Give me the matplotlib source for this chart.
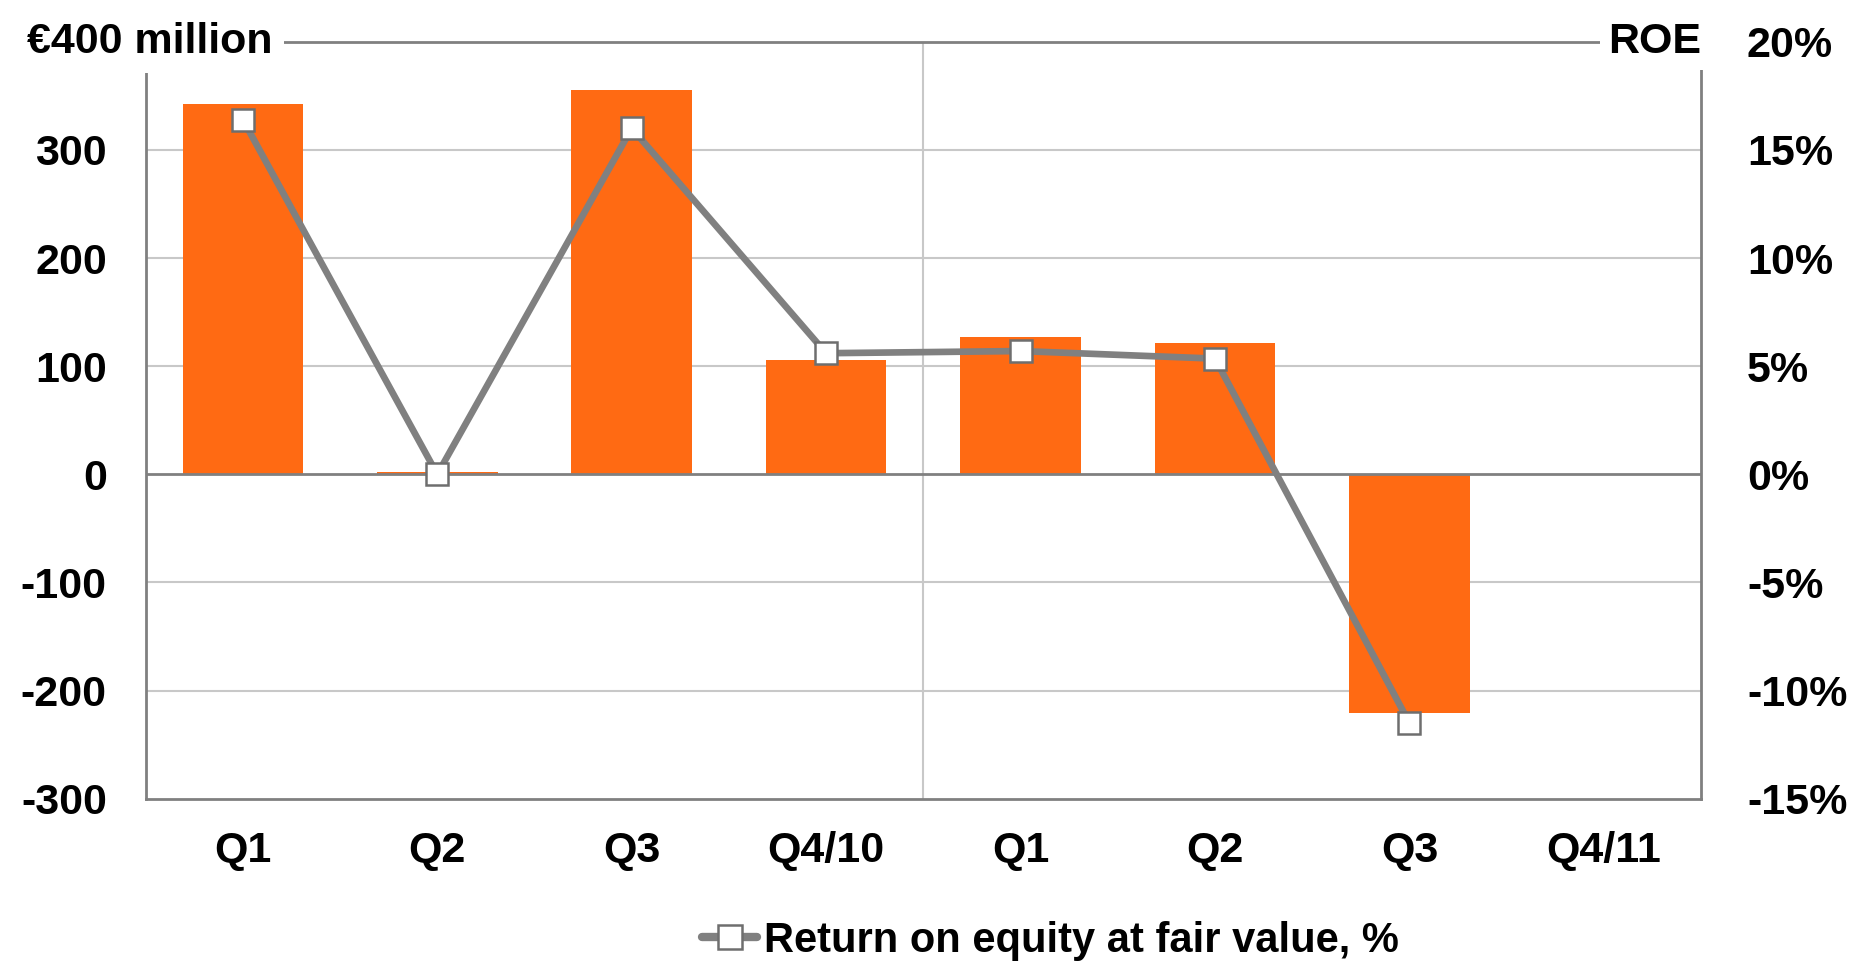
import matplotlib
matplotlib.use("Agg")
import matplotlib.pyplot as plt
from matplotlib.lines import Line2D
from matplotlib.transforms import blended_transform_factory

# data
quarters = ["Q1", "Q2", "Q3", "Q4/10", "Q1", "Q2", "Q3", "Q4/11"]
result_meur = [342, 2, 355, 106, 127, 121, -221, None]
roe_pct = [16.4, 0.0, 16.0, 5.6, 5.7, 5.35, -11.5, None]

left_ticks = [-300, -200, -100, 0, 100, 200, 300, 400]
right_ticks = [-15, -10, -5, 0, 5, 10, 15, 20]

ORANGE = "#FF6A13"
GRAY = "#808080"
GRID = "#C8C8C8"
FS = 31

plt.rcParams["font.family"] = ["Liberation Sans", "DejaVu Sans"]
plt.rcParams["font.weight"] = "bold"

fig = plt.figure(figsize=(18.72, 9.67), dpi=100)
ax = fig.add_axes([0.0778, 0.174, 0.9087 - 0.0778, 0.9568 - 0.174])

x = list(range(len(quarters)))
bx = [i for i, v in zip(x, result_meur) if v is not None]
bv = [v for v in result_meur if v is not None]
ax.bar(bx, bv, width=0.62, color=ORANGE, zorder=2)

ax.set_xlim(-0.5, len(quarters) - 0.5)
ax.set_ylim(-300, 400)
ax.set_yticks(left_ticks)
ax.set_yticklabels([str(t) if t != 400 else "" for t in left_ticks])
ax.set_xticks(x)
ax.set_xticklabels(quarters)
ax.tick_params(axis="both", length=0, labelsize=FS)
ax.tick_params(axis="y", pad=28)
ax.tick_params(axis="x", pad=23)

for t in left_ticks:
    if t not in (0, 400, -300):
        ax.axhline(t, color=GRID, lw=1.5, zorder=1)
ax.axhline(0, color=GRAY, lw=2, zorder=3)
ax.axvline(3.5, color=GRID, lw=1.5, zorder=1)

for s in ax.spines.values():
    s.set_color(GRAY)
    s.set_linewidth(2)

ax2 = ax.twinx()
ax2.set_ylim(-15, 20)
ax2.set_yticks(right_ticks)
ax2.set_yticklabels([f"{t}%" for t in right_ticks])
ax2.tick_params(axis="y", length=0, labelsize=FS, pad=33)
for s in ax2.spines.values():
    s.set_visible(False)

lx = [i for i, v in zip(x, roe_pct) if v is not None]
lv = [v for v in roe_pct if v is not None]
ax2.plot(lx, lv, color=GRAY, lw=4.8, marker="s", markersize=16,
         markerfacecolor="white", markeredgecolor="#6E6E6E", markeredgewidth=1.8, zorder=5)

# axis unit labels sitting on the top border
tr = blended_transform_factory(fig.transFigure, ax.transData)
ax.text(0.0144, 400, "€400 million", transform=tr, ha="left",
        va="center", fontsize=FS, fontweight="bold",
        bbox=dict(facecolor="white", edgecolor="none", pad=8), zorder=10, clip_on=False)
ax.text(1.0, 400, "ROE", transform=ax.get_yaxis_transform(), ha="right",
        va="center", fontsize=FS, fontweight="bold",
        bbox=dict(facecolor="white", edgecolor="none", pad=6), zorder=10, clip_on=False)

handle = Line2D([], [], color=GRAY, lw=6, marker="s", markersize=17,
                markerfacecolor="white", markeredgecolor="#6E6E6E", markeredgewidth=1.8,
                solid_capstyle="round")
fig.legend([handle], ["Return on equity at fair value, %"], loc="center",
           bbox_to_anchor=(0.561, 0.027), frameon=False, fontsize=30,
           handlelength=1.33, handletextpad=0.15)

fig.savefig("out.png", dpi=100)
